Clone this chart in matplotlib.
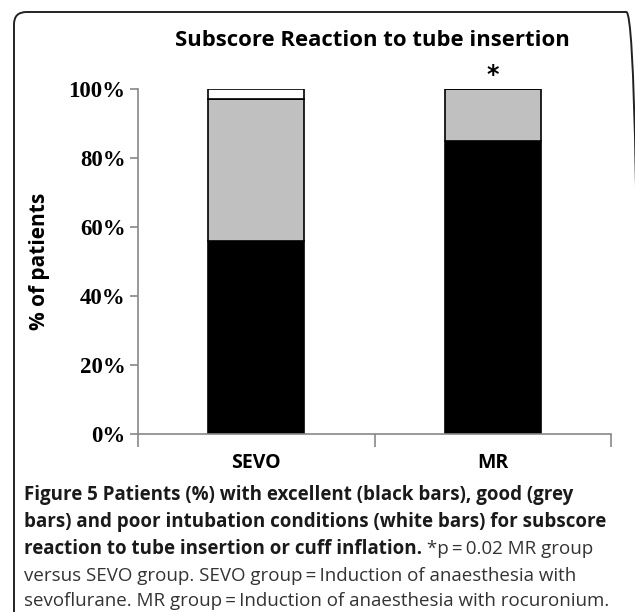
import matplotlib.pyplot as plt
from matplotlib.patches import FancyBboxPatch
from matplotlib.ticker import FixedLocator, PercentFormatter

# data (share of patients per intubation condition)
groups = ["SEVO", "MR"]
excellent = [56, 85]
good = [41, 15]
poor = [3, 0]

title = "Subscore Reaction to tube insertion"
ylabel = "% of patients"
caption_bold = [
    "Figure 5 Patients (%) with excellent (black bars), good (grey",
    "bars) and poor intubation conditions (white bars) for subscore",
    "reaction to tube insertion or cuff inflation.",
]
caption_plain = [
    " *p\u2009=\u20090.02 MR group",
    "versus SEVO group. SEVO group\u2009=\u2009Induction of anaesthesia with",
    "sevoflurane. MR group\u2009=\u2009Induction of anaesthesia with rocuronium.",
]

W, H = 635, 612
fig = plt.figure(figsize=(W / 100, H / 100), dpi=100)

# rounded frame around the figure panel
frame = FancyBboxPatch((14 / W, -0.1), 625 / W, 1.1 - 12 / H,
                       boxstyle="round,pad=0,rounding_size=0.02",
                       transform=fig.transFigure, fill=False,
                       edgecolor="#222222", linewidth=1.4)
fig.patches.append(frame)

ax = fig.add_axes([138 / W, 1 - 434 / H, (611 - 138) / W, (434 - 89) / H])
x = list(range(len(groups)))
width = 0.406
bottom2 = excellent
bottom3 = [a + b for a, b in zip(excellent, good)]
ax.bar(x, excellent, width, color="black", edgecolor="black", linewidth=1.2)
ax.bar(x, good, width, bottom=bottom2, color="#c0c0c0", edgecolor="black", linewidth=1.2)
ax.bar(x, poor, width, bottom=bottom3, color="white", edgecolor="black", linewidth=1.2)

ax.set_xlim(-0.5, 1.5)
ax.set_ylim(0, 100)
ax.set_yticks([0, 20, 40, 60, 80, 100])
ax.yaxis.set_major_formatter(PercentFormatter(decimals=0))
for s in ["top", "right"]:
    ax.spines[s].set_visible(False)
for s in ["left", "bottom"]:
    ax.spines[s].set_color("#888888")
    ax.spines[s].set_linewidth(1.2)
ax.tick_params(axis="y", direction="out", length=6, color="#888888", width=1.2, pad=3)
for lab in ax.get_yticklabels():
    lab.set_fontfamily("Liberation Serif")
    lab.set_fontweight("bold")
    lab.set_fontsize(16.5)

ax.set_xticks(x)
ax.set_xticklabels(groups, fontfamily="Open Sans", fontweight="bold", fontsize=14)
ax.tick_params(axis="x", which="major", length=0, pad=14)
ax.xaxis.set_minor_locator(FixedLocator([-0.5, 0.5, 1.5]))
ax.tick_params(axis="x", which="minor", direction="out", length=9, color="#888888", width=1.2)

ax.set_ylabel(ylabel, fontfamily="Open Sans", fontweight="bold", fontsize=15, labelpad=12)
ax.yaxis.set_label_coords(-0.185, 0.5)

# significance marker above MR
ax.text(1, 100.5, "*", ha="center", va="bottom", fontsize=17, fontweight="bold",
        fontfamily="DejaVu Sans")

fig.text(372 / W, 1 - 40 / H, title, ha="center", va="center",
         fontfamily="Open Sans", fontweight="bold", fontsize=15.9)

# caption
cap_font = "Open Sans"
cap_size = 13.5
line_y = [495, 522, 549, 576, 601]
fig.canvas.draw()
renderer = fig.canvas.get_renderer()
for i, y in enumerate(line_y):
    xpos = 24 / W
    if i < len(caption_bold):
        t = fig.text(xpos, 1 - y / H, caption_bold[i], ha="left", va="center",
                     fontfamily=cap_font, fontweight="bold", fontsize=cap_size, color="#1a1a1a")
        bb = t.get_window_extent(renderer)
        xpos = bb.x1 / W
    j = i - 2
    if j >= 0:
        fig.text(xpos, 1 - y / H, caption_plain[j], ha="left", va="center",
                 fontfamily=cap_font, fontsize=cap_size, color="#333333")

fig.savefig("out.png", dpi=100)
